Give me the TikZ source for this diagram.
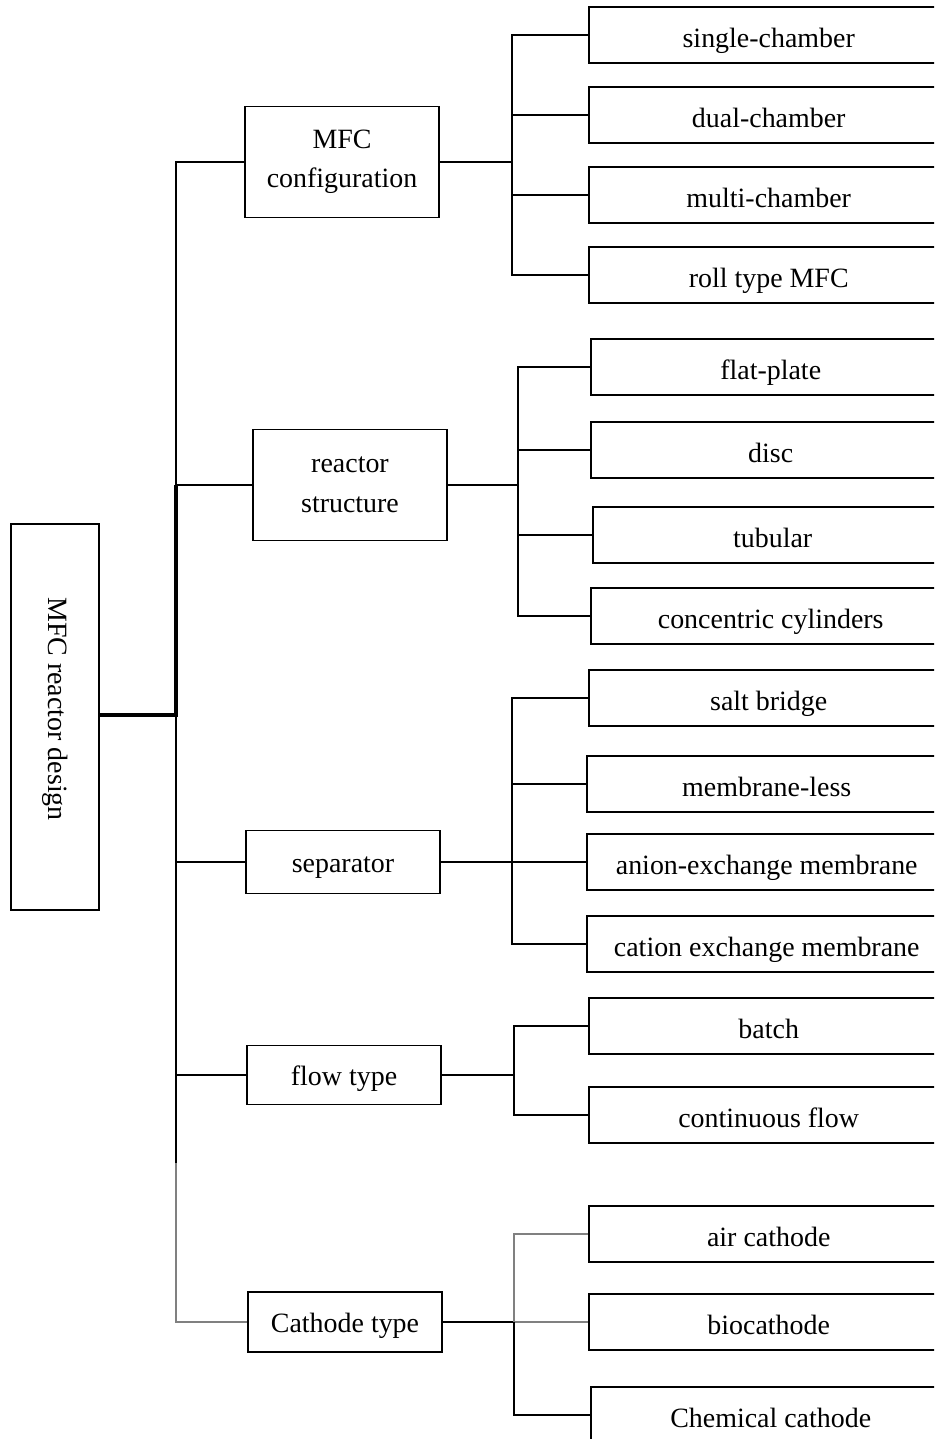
\documentclass[tikz,border=0pt]{standalone}
\usepackage{fontspec}
\setmainfont{Liberation Serif}
\usepackage{graphicx}

\begin{document}
\begin{tikzpicture}[x=0.02cm,y=-0.02cm,
    font=\fontsize{15.9}{22.5}\selectfont,
    box/.style={draw,line width=0.85pt,inner sep=0pt},
    midbox/.style={box,minimum width=3.88cm},
    twobox/.style={midbox,align=center,minimum height=2.22cm},
    onebox/.style={midbox,text height=13.5pt,text depth=1.5pt},
    leafbox/.style={box,anchor=west,minimum width=7.2cm,minimum height=1.12cm,
      text height=14.5pt,text depth=0.5pt},
    link/.style={line width=0.85pt},
    boldlink/.style={line width=1.8pt},
    faintlink/.style={line width=0.85pt,draw=gray}]
  \clip (0,0) rectangle (934,1439);

  \node[box,minimum width=1.76cm,minimum height=7.72cm] (root) at (55,717)
    {\rotatebox{-90}{MFC reactor design\hspace{0.32cm}}};

  \node[twobox] (cfg) at (342,162) {MFC\\configuration};
  \node[twobox] (struct) at (350,485) {reactor\\structure};
  \node[onebox,minimum height=1.26cm] (sep) at (343,862) {separator};
  \node[onebox,minimum height=1.18cm] (flow) at (344,1075) {flow type};
  \node[onebox,minimum height=1.2cm] (cath) at (345,1322) {Cathode type};

  \node[leafbox] (cfgsingle) at (588,35) {single-chamber};
  \node[leafbox] (cfgdual) at (588,115) {dual-chamber};
  \node[leafbox] (cfgmulti) at (588,195) {multi-chamber};
  \node[leafbox] (cfgroll) at (588,275) {roll type MFC};

  \node[leafbox] (structflat) at (590,367) {flat-plate};
  \node[leafbox] (structdisc) at (590,450) {disc};
  \node[leafbox] (structtube) at (592,535) {tubular};
  \node[leafbox] (structcyl) at (590,616) {concentric cylinders};

  \node[leafbox] (sepsalt) at (588,698) {salt bridge};
  \node[leafbox] (sepless) at (586,784) {membrane-less};
  \node[leafbox] (sepanion) at (586,862) {anion-exchange membrane};
  \node[leafbox] (sepcation) at (586,944) {cation exchange membrane};

  \node[leafbox] (flowbatch) at (588,1026) {batch};
  \node[leafbox] (flowcont) at (588,1115) {continuous flow};

  \node[leafbox] (cathair) at (588,1234) {air cathode};
  \node[leafbox] (cathbio) at (588,1322) {biocathode};
  \node[leafbox] (cathchem) at (590,1415) {Chemical cathode};

  % main trunk
  \coordinate (trunk) at (176,715);
  \coordinate (trunkend) at (176,1163);
  \draw[link] (trunk) |- (cfg.west);
  \draw[link] (trunk) |- (struct.west);
  \draw[boldlink] (root.east |- trunk) -- (trunk) -- (trunk |- struct.west);
  \draw[link] (trunk) |- (sep.west);
  \draw[link] (trunk) |- (flow.west);
  \draw[link] (trunk) -- (trunkend);
  \draw[faintlink] (trunkend) |- (cath.west);

  % configuration
  \coordinate (cfgjoin) at (512,162);
  \draw[link] (cfg.east) -- (cfgjoin);
  \draw[link] (cfgjoin) |- (cfgsingle.west);
  \draw[link] (cfgjoin) |- (cfgdual.west);
  \draw[link] (cfgjoin) |- (cfgmulti.west);
  \draw[link] (cfgjoin) |- (cfgroll.west);

  % structure
  \coordinate (structjoin) at (518,485);
  \draw[link] (struct.east) -- (structjoin);
  \draw[link] (structjoin) |- (structflat.west);
  \draw[link] (structjoin) |- (structdisc.west);
  \draw[link] (structjoin) |- (structtube.west);
  \draw[link] (structjoin) |- (structcyl.west);

  % separator
  \coordinate (sepjoin) at (512,862);
  \draw[link] (sep.east) -- (sepjoin);
  \draw[link] (sepjoin) |- (sepsalt.west);
  \draw[link] (sepjoin) |- (sepless.west);
  \draw[link] (sepjoin) |- (sepanion.west);
  \draw[link] (sepjoin) |- (sepcation.west);

  % flow
  \coordinate (flowjoin) at (514,1075);
  \draw[link] (flow.east) -- (flowjoin);
  \draw[link] (flowjoin) |- (flowbatch.west);
  \draw[link] (flowjoin) |- (flowcont.west);

  % cathode
  \coordinate (cathjoin) at (514,1322);
  \draw[link] (cath.east) -- (cathjoin);
  \draw[faintlink] (cathjoin) |- (cathair.west);
  \draw[faintlink] (cathjoin) -- (cathbio.west);
  \draw[link] (cathjoin) |- (cathchem.west);
\end{tikzpicture}
\end{document}
